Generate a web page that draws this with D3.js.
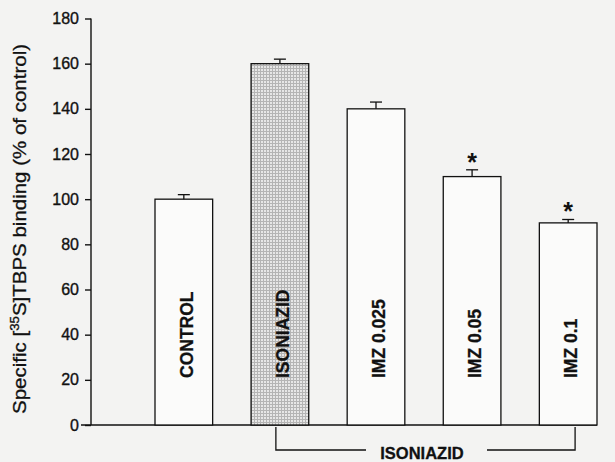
<!DOCTYPE html>
<html>
<head>
<meta charset="utf-8">
<script src="https://cdn.jsdelivr.net/npm/d3@7/dist/d3.min.js"></script>
<style>
  html, body { margin: 0; padding: 0; background: #f3f3f2; }
  svg { display: block; }
  text { font-family: "Liberation Sans", Arial, sans-serif; fill: #111; }
</style>
</head>
<body>
<svg id="chart" width="615" height="462"></svg>
<script>
// Specific [35S]TBPS binding per treatment group (% of control), mean ± SEM
const categories = ["CONTROL", "ISONIAZID", "IMZ 0.025", "IMZ 0.05", "IMZ 0.1"];
const means = [100, 160, 140, 110, 89.5];
const sems = [2, 2, 3, 3, 1.5];
const significant = [false, false, false, true, true];
const stippled = [false, true, false, false, false];
const yTicks = [0, 20, 40, 60, 80, 100, 120, 140, 160, 180];
const groupLabel = "ISONIAZID";
const groupMembers = ["ISONIAZID", "IMZ 0.1"];

const ink = "#111";
const svg = d3.select("#chart");

// stipple fill for the isoniazid-alone bar
const defs = svg.append("defs");
const pat = defs.append("pattern")
  .attr("id", "stipple")
  .attr("patternUnits", "userSpaceOnUse")
  .attr("width", 3).attr("height", 3);
pat.append("rect").attr("width", 3).attr("height", 3).attr("fill", "#b4b4b4");
pat.append("rect").attr("width", 2).attr("height", 2).attr("fill", "#e6e6e6");

const y = d3.scaleLinear().domain([0, 180]).range([425, 18.5]);
const x = d3.scaleBand().domain(categories).range([155, 597])
  .paddingInner(0.4).paddingOuter(0);
const axisX = 91;

// y axis
const yAxis = d3.axisLeft(y).tickValues(yTicks).tickSize(6).tickPadding(6)
  .tickFormat(d3.format("d"));
const gy = svg.append("g").attr("transform", `translate(${axisX},0)`).call(yAxis);
gy.select(".domain").attr("stroke", ink).attr("stroke-width", 1.4)
  .attr("d", `M0,${y(180)}V${y(0)}`);
gy.selectAll(".tick line").attr("stroke", ink).attr("stroke-width", 1.4);
gy.selectAll(".tick text")
  .style("font-family", '"Liberation Sans", Arial, sans-serif')
  .style("font-size", "16px").attr("fill", ink)
  .attr("stroke", ink).attr("stroke-width", 0.35);

// baseline
svg.append("line")
  .attr("x1", axisX - 10).attr("x2", x.range()[1])
  .attr("y1", y(0)).attr("y2", y(0))
  .attr("stroke", ink).attr("stroke-width", 1.4);

// y axis title
const title = svg.append("text")
  .attr("transform", `translate(26,${229}) rotate(-90)`)
  .attr("text-anchor", "middle")
  .attr("textLength", 370).attr("lengthAdjust", "spacingAndGlyphs")
  .attr("stroke", ink).attr("stroke-width", 0.3)
  .style("font-size", "18.5px");
title.append("tspan").text("Specific [");
title.append("tspan").text("35").style("font-size", "12px").attr("dy", "-7");
title.append("tspan").text("S]TBPS binding (% of control)").attr("dy", "7");

const data = categories.map((c, i) => ({
  cat: c, mean: means[i], sem: sems[i], sig: significant[i], stip: stippled[i]
}));

// bars
svg.append("g").selectAll("rect").data(data).join("rect")
  .attr("x", d => x(d.cat))
  .attr("y", d => y(d.mean))
  .attr("width", x.bandwidth())
  .attr("height", d => y(0) - y(d.mean))
  .attr("fill", d => d.stip ? "url(#stipple)" : "#fbfbfa")
  .attr("stroke", ink).attr("stroke-width", 1.3);

// error bars (upper half)
const eb = svg.append("g").attr("stroke", ink).attr("stroke-width", 1.3);
eb.selectAll("line.v").data(data).join("line").attr("class", "v")
  .attr("x1", d => x(d.cat) + x.bandwidth() / 2)
  .attr("x2", d => x(d.cat) + x.bandwidth() / 2)
  .attr("y1", d => y(d.mean)).attr("y2", d => y(d.mean + d.sem));
eb.selectAll("line.c").data(data).join("line").attr("class", "c")
  .attr("x1", d => x(d.cat) + x.bandwidth() / 2 - 6)
  .attr("x2", d => x(d.cat) + x.bandwidth() / 2 + 6)
  .attr("y1", d => y(d.mean + d.sem)).attr("y2", d => y(d.mean + d.sem));

// significance markers
svg.append("g").selectAll("text").data(data.filter(d => d.sig)).join("text")
  .attr("x", d => x(d.cat) + x.bandwidth() / 2)
  .attr("y", d => y(d.mean + d.sem) + 1)
  .attr("text-anchor", "middle")
  .style("font-size", "25px").style("font-weight", "bold")
  .text("*");

// category labels inside bars, reading bottom-to-top
svg.append("g").selectAll("text").data(data).join("text")
  .attr("transform", d => `translate(${x(d.cat) + x.bandwidth() / 2 + 3},378) rotate(-90)`)
  .attr("text-anchor", "start")
  .attr("dy", "0.35em")
  .attr("stroke", ink).attr("stroke-width", 0.3)
  .style("font-size", "17.5px").style("font-weight", "bold")
  .text(d => d.cat);

// bracket grouping the isoniazid-treated bars
const bx1 = x(groupMembers[0]) + x.bandwidth() * 0.43;
const bx2 = x(groupMembers[1]) + x.bandwidth() * 0.62;
const by = 450;
const tx = 422;
const br = svg.append("g").attr("stroke", ink).attr("stroke-width", 1.3).attr("fill", "none");
br.append("path").attr("d", `M${bx1},${y(0) + 2}V${by}H${tx - 56}`);
br.append("path").attr("d", `M${tx + 65},${by}H${bx2}V${y(0) + 2}`);
svg.append("text")
  .attr("x", tx).attr("y", 459)
  .attr("text-anchor", "middle")
  .attr("stroke", ink).attr("stroke-width", 0.3)
  .style("font-size", "16.5px").style("font-weight", "bold")
  .text(groupLabel);
</script>
</body>
</html>
